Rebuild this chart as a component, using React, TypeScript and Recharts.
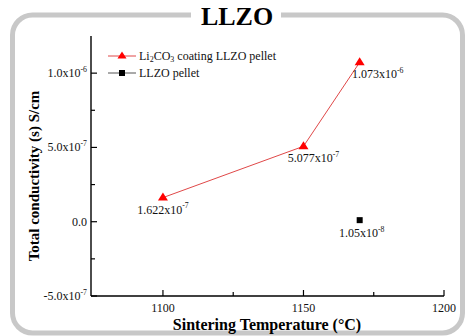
import React from "react"
import { LineChart, Line, XAxis, YAxis, Legend } from "recharts"

// sintering temperature (°C) vs total conductivity (S/cm)
const coatedTemps = [1100, 1150, 1170]
const coatedValues = [1.622e-7, 5.077e-7, 1.073e-6]
const coatedLabels = [
  ["1.622x10", "-7"],
  ["5.077x10", "-7"],
  ["1.073x10", "-6"],
]

const pelletTemps = [1170]
const pelletValues = [1.05e-8]
const pelletLabels = [["1.05x10", "-8"]]

const xTicks = [1100, 1125, 1150, 1175, 1200]
const xTickLabels = ["1100", "", "1150", "", "1200"]
const yTicks = [-5e-7, -2.5e-7, 0, 2.5e-7, 5e-7, 7.5e-7, 1e-6]
const yTickLabels = [
  ["-5.0x10", "-7"],
  ["", ""],
  ["0.0", ""],
  ["", ""],
  ["5.0x10", "-7"],
  ["", ""],
  ["1.0x10", "-6"],
]

const coatedData = coatedTemps.map((t, i) => ({ t, v: coatedValues[i] }))
const pelletData = pelletTemps.map((t, i) => ({ t, v: pelletValues[i] }))

const FONT = '"Liberation Serif", "Times New Roman", serif'

function SciText({ x, y, base, exp, anchor = "middle", size = 12 }: any) {
  return (
    <text x={x} y={y} textAnchor={anchor} fontFamily={FONT} fontSize={size} fill="#111">
      {base}
      {exp && (
        <tspan fontSize={size * 0.65} dy={-size * 0.45}>
          {exp}
        </tspan>
      )}
    </text>
  )
}

const XTick = (props: any) => {
  const { x, y, payload } = props
  const i = xTicks.indexOf(payload.value)
  const label = xTickLabels[i]
  return (
    <g>
      <line x1={x} x2={x} y1={y} y2={y - (label ? 6 : 4)} stroke="#000" strokeWidth={1.2} />
      {label && (
        <text x={x} y={y + 16} textAnchor="middle" fontFamily={FONT} fontSize={12} fill="#111">
          {label}
        </text>
      )}
    </g>
  )
}

const YTick = (props: any) => {
  const { x, y, payload } = props
  const i = yTicks.findIndex((t) => Math.abs(t - payload.value) < 1e-12)
  const [base, exp] = yTickLabels[i] || ["", ""]
  return (
    <g>
      <line x1={x} x2={x + (base ? 6 : 4)} y1={y} y2={y} stroke="#000" strokeWidth={1.2} />
      {base && <SciText x={x - 4} y={y + 4} base={base} exp={exp} anchor="end" />}
    </g>
  )
}

const triangle = (props: any) => {
  const { cx, cy } = props
  if (cx == null || cy == null) return <g />
  return <path d={`M${cx},${cy - 5} L${cx + 5},${cy + 3} L${cx - 5},${cy + 3} Z`} fill="#ff0000" />
}

const square = (props: any) => {
  const { cx, cy } = props
  if (cx == null || cy == null) return <g />
  return <rect x={cx - 3} y={cy - 3} width={6} height={6} fill="#000" />
}

const coatedLabel = (props: any) => {
  const { x, y, index } = props
  const dx = [0, 10, 18][index] ?? 0
  const [base, exp] = coatedLabels[index]
  return <SciText key={index} x={x + dx} y={y + 16} base={base} exp={exp} />
}

const pelletLabel = (props: any) => {
  const { x, y, index } = props
  const [base, exp] = pelletLabels[index]
  return <SciText key={index} x={x + 2} y={y + 17} base={base} exp={exp} />
}

const LegendBox = () => (
  <svg width={220} height={34}>
    <line x1={2} x2={30} y1={8} y2={8} stroke="#e04848" strokeWidth={1} />
    <path d="M16,3.5 L20.5,10.5 L11.5,10.5 Z" fill="#ff0000" />
    <text x={33} y={12} fontFamily={FONT} fontSize={12} fill="#111">
      Li<tspan fontSize={8} dy={2}>2</tspan>
      <tspan dy={-2}>CO</tspan>
      <tspan fontSize={8} dy={2}>3</tspan>
      <tspan dy={-2}> coating LLZO pellet</tspan>
    </text>
    <line x1={2} x2={30} y1={25} y2={25} stroke="#555" strokeWidth={1} />
    <rect x={13} y={22} width={6} height={6} fill="#000" />
    <text x={33} y={29} fontFamily={FONT} fontSize={12} fill="#111">
      LLZO pellet
    </text>
  </svg>
)

export default function App() {
  return (
    <div style={{ position: "absolute", left: 0, top: 0, width: 466, height: 336, background: "#fff" }}>
      <svg width={466} height={336} style={{ position: "absolute", left: 0, top: 0 }}>
        <rect x={12.5} y={15} width={450} height={318} rx={20} fill="none" stroke="#c8c8c8" strokeWidth={5} />
        <rect x={191} y={4} width={90} height={24} fill="#fff" />
        <text x={237} y={25} textAnchor="middle" fontFamily={FONT} fontWeight="bold" fontSize={26} fill="#000">
          LLZO
        </text>
        <text
          transform="translate(39,176) rotate(-90)"
          textAnchor="middle"
          fontFamily={FONT}
          fontWeight="bold"
          fontSize={15}
          fill="#000"
        >
          Total conductivity (s) S/cm
        </text>
        <text x={267} y={330} textAnchor="middle" fontFamily={FONT} fontWeight="bold" fontSize={16} fill="#000">
          Sintering Temperature (°C)
        </text>
      </svg>
      <div style={{ position: "absolute", left: 0, top: 0 }}>
        <LineChart width={466} height={336} margin={{ top: 36, right: 22, bottom: 0, left: 0 }}>
          <XAxis
            dataKey="t"
            type="number"
            domain={[1074.4, 1200]}
            ticks={xTicks}
            allowDataOverflow
            height={40}
            tickSize={0}
            tickMargin={0}
            tick={<XTick />}
            axisLine={{ stroke: "#000", strokeWidth: 1.4 }}
            tickLine={false}
          />
          <XAxis
            xAxisId="top"
            orientation="top"
            dataKey="t"
            type="number"
            domain={[1074.4, 1200]}
            height={0}
            tick={false}
            tickLine={false}
            axisLine={{ stroke: "#000", strokeWidth: 1.4 }}
          />
          <YAxis
            dataKey="v"
            type="number"
            domain={[-5e-7, 1.25e-6]}
            ticks={yTicks}
            allowDataOverflow
            width={91}
            tickSize={0}
            tickMargin={0}
            tick={<YTick />}
            axisLine={{ stroke: "#000", strokeWidth: 1.4 }}
            tickLine={false}
          />
          <YAxis
            yAxisId="right"
            orientation="right"
            dataKey="v"
            type="number"
            domain={[-5e-7, 1.25e-6]}
            width={0}
            tick={false}
            tickLine={false}
            axisLine={{ stroke: "#000", strokeWidth: 1.4 }}
          />
          <Legend
            layout="vertical"
            align="center"
            verticalAlign="middle"
            content={<LegendBox />}
            wrapperStyle={{ position: "absolute", left: 106, top: 48, width: 220, height: 34 }}
          />
          <Line
            data={coatedData}
            dataKey="v"
            name="coated"
            stroke="#e04848"
            strokeWidth={1}
            dot={triangle}
            activeDot={false}
            label={coatedLabel}
            isAnimationActive={false}
          />
          <Line
            data={pelletData}
            dataKey="v"
            name="pellet"
            stroke="#000"
            strokeWidth={1}
            dot={square}
            activeDot={false}
            label={pelletLabel}
            isAnimationActive={false}
          />
        </LineChart>
      </div>
    </div>
  )
}
